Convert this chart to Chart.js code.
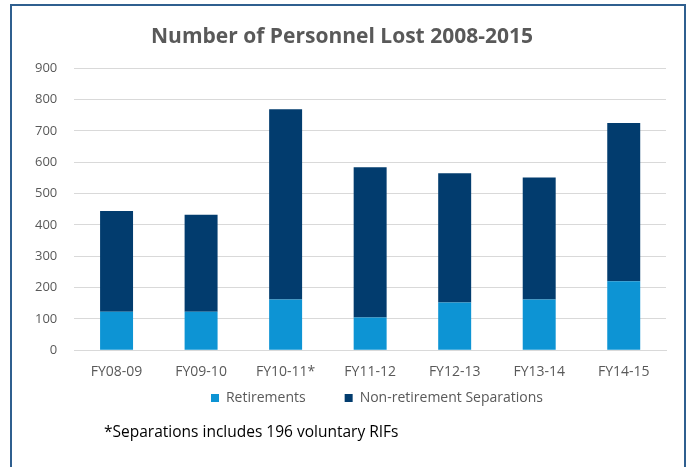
<!DOCTYPE html>
<html>
<head>
<meta charset="utf-8">
<script src="https://cdn.jsdelivr.net/npm/chart.js@4/dist/chart.umd.min.js"></script>
<style>
  html, body { margin: 0; padding: 0; background: #fff; }
  #wrap { position: relative; width: 689px; height: 467px; overflow: hidden; }
  #frame { position: absolute; left: 10px; top: 4px; width: 676px; height: 480px;
           border: 2px solid #2f5f8f; box-sizing: border-box; }
  #chartBox { position: absolute; left: 0; top: 0; width: 689px; height: 467px; }
  #note { position: absolute; left: 104px; top: 420px; font-family: "Open Sans", sans-serif;
          font-size: 15.5px; color: #000; }
</style>
</head>
<body>
<div id="wrap">
  <div id="frame"></div>
  <div id="chartBox"><canvas id="personnelChart"></canvas></div>
  <div id="note">*Separations includes 196 voluntary RIFs</div>
</div>
<script>
  // anos fiscais
  var categorias = ['FY08-09', 'FY09-10', 'FY10-11*', 'FY11-12', 'FY12-13', 'FY13-14', 'FY14-15'];
  var aposentadorias = [123, 123, 162, 104, 152, 162, 220];
  var outrasSaidas = [321, 309, 607, 480, 413, 389, 505];

  var fonte = '"Open Sans", sans-serif';

  // empurra a legenda para a direita/cima (no original ela fica centrada no grafico)
  var moveLegenda = {
    id: 'moveLegenda',
    afterUpdate: function(chart) {
      var lg = chart.legend;
      var dx = 35, dy = -33;
      lg.left += dx; lg.right += dx;
      lg.top += dy; lg.bottom += dy;
    }
  };

  var ctx = document.getElementById("personnelChart");
  var grafico = new Chart(ctx, {
    type: 'bar',
    data: {
      labels: categorias,
      datasets: [
        {
          label: 'Retirements',
          data: aposentadorias,
          backgroundColor: '#0d94d4',
          categoryPercentage: 1,
          barPercentage: 0.39
        },
        {
          label: 'Non-retirement Separations',
          data: outrasSaidas,
          backgroundColor: '#023c6e',
          categoryPercentage: 1,
          barPercentage: 0.39
        }
      ]
    },
    plugins: [moveLegenda],
    options: {
      responsive: true,
      maintainAspectRatio: false,
      animation: false,
      layout: { padding: { left: 18, right: 23, top: 10, bottom: 19 } },
      plugins: {
        title: {
          display: true,
          text: 'Number of Personnel Lost 2008-2015',
          color: '#595959',
          font: { family: fonte, size: 21, weight: 'bold' },
          padding: { top: 14, bottom: 19 }
        },
        legend: {
          position: 'bottom',
          labels: {
            color: '#595959',
            font: { family: fonte, size: 14 },
            boxWidth: 8,
            boxHeight: 8,
            padding: 39
          }
        },
        tooltip: { enabled: false }
      },
      scales: {
        x: {
          stacked: true,
          grid: { display: false },
          border: { display: true, color: '#d9d9d9' },
          ticks: { color: '#595959', font: { family: fonte, size: 14 }, padding: 5 }
        },
        y: {
          stacked: true,
          min: 0,
          max: 900,
          grid: { color: '#d9d9d9', drawTicks: false },
          border: { display: false },
          ticks: { stepSize: 100, color: '#595959', font: { family: fonte, size: 13 }, padding: 17 }
        }
      }
    }
  });
</script>
</body>
</html>
